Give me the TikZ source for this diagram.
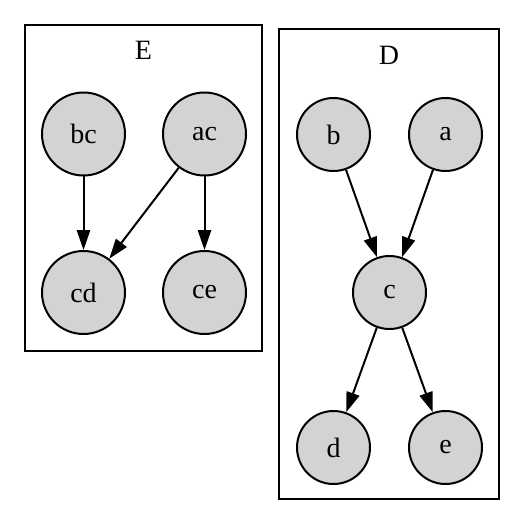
\documentclass[tikz,border=0pt]{standalone}
\usepackage{fontspec}
\setmainfont{Liberation Serif}
\usetikzlibrary{arrows.meta}
\begin{document}
\begin{tikzpicture}[x=1pt,y=-1pt,line width=2pt,
  every node/.style={font=\fontsize{28}{32}\selectfont},
  gnode/.style={circle,draw=black,line width=2pt,fill={rgb,255:red,211;green,211;blue,211},inner sep=0pt,minimum size=73pt},
  bignode/.style={gnode,minimum size=83pt},
  edge/.style={-{Triangle[length=20pt,width=13.3pt]},line width=2pt},
  cluster/.style={draw=black,line width=2pt}]
\useasboundingbox (0,0) rectangle (525,526);
% cluster E
\draw[cluster] (24.7,24.7) rectangle (261.5,351);
\node (Elbl) at (143.5,50) {E};
\node[bignode] (bc) at (83.5,134) {bc};
\node[bignode] (ac) at (204.5,134) {ac};
\node[bignode] (cd) at (83.5,292.5) {cd};
\node[bignode] (ce) at (204.5,292.5) {ce};
\draw[edge] (bc) -- (cd);
\draw[edge] (ac) -- (cd);
\draw[edge] (ac) -- (ce);
% cluster D
\draw[cluster] (279,29.5) rectangle (499,499);
\node (Dlbl) at (389,55) {D};
\node[gnode] (b) at (333.5,134.5) {b};
\node[gnode] (a) at (445.5,134.5) {a};
\node[gnode] (c) at (389.5,292.5) {c};
\node[gnode] (d) at (333.5,447.5) {d};
\node[gnode] (e) at (445.5,447.5) {e};
\draw[edge] (b) -- (c);
\draw[edge] (a) -- (c);
\draw[edge] (c) -- (d);
\draw[edge] (c) -- (e);
\end{tikzpicture}
\end{document}
